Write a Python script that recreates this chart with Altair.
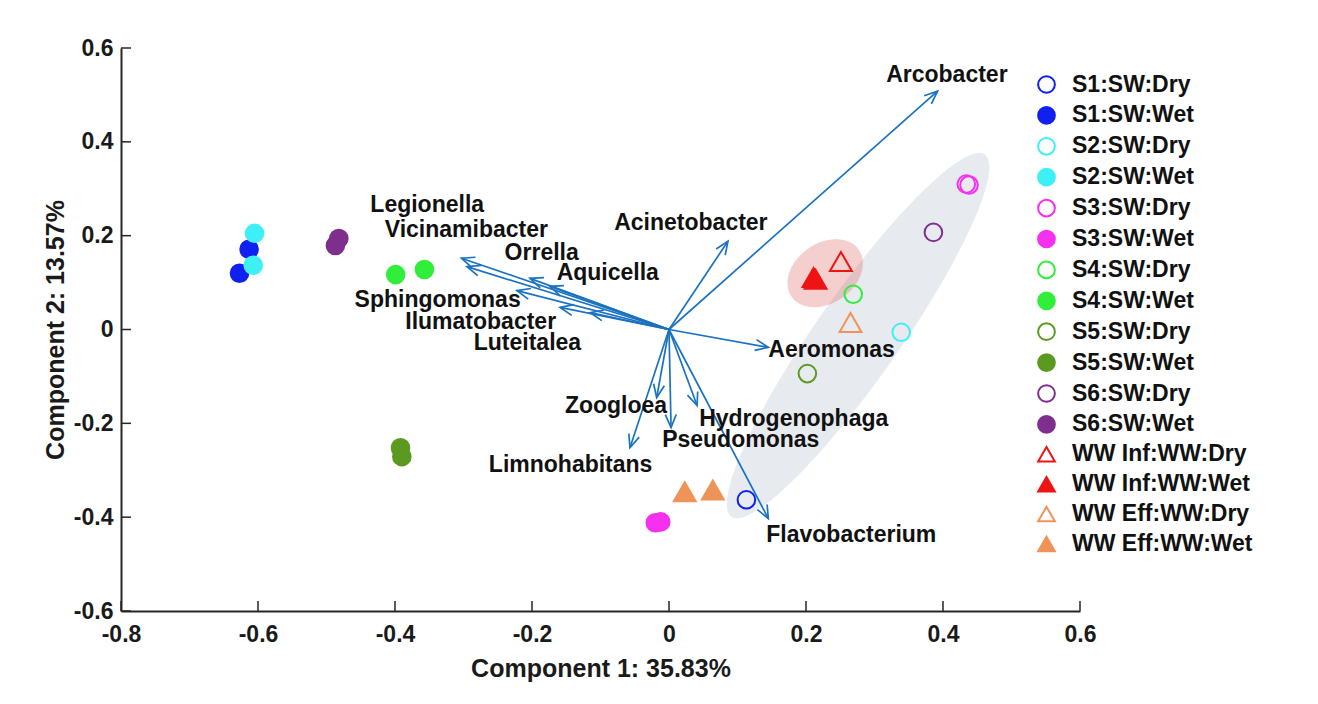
import altair as alt
import pandas as pd
import numpy as np

# ---------------- data ----------------
groups = ["S1:SW:Dry", "S1:SW:Wet", "S2:SW:Dry", "S2:SW:Wet", "S3:SW:Dry", "S3:SW:Wet",
          "S4:SW:Dry", "S4:SW:Wet", "S5:SW:Dry", "S5:SW:Wet", "S6:SW:Dry", "S6:SW:Wet",
          "WW Inf:WW:Dry", "WW Inf:WW:Wet", "WW Eff:WW:Dry", "WW Eff:WW:Wet"]
group_colors = ["#1020f0", "#1020f0", "#3ef0f5", "#3ef0f5", "#f530ee", "#f530ee",
                "#30ee3a", "#30ee3a", "#5b9a20", "#5b9a20", "#7e2f8e", "#7e2f8e",
                "#ee1414", "#ee1414", "#ef9458", "#ef9458"]
group_fills = ["transparent", "#1020f0", "transparent", "#3ef0f5", "transparent", "#f530ee",
               "transparent", "#30ee3a", "transparent", "#5b9a20", "transparent", "#7e2f8e",
               "transparent", "#ee1414", "transparent", "#ef9458"]
group_shapes = ["circle"] * 12 + ["triangle-up"] * 4

sample_group = ["S1:SW:Dry", "S1:SW:Wet", "S1:SW:Wet",
                "S2:SW:Dry", "S2:SW:Wet", "S2:SW:Wet",
                "S3:SW:Dry", "S3:SW:Dry", "S3:SW:Wet", "S3:SW:Wet",
                "S4:SW:Dry", "S4:SW:Wet", "S4:SW:Wet",
                "S5:SW:Dry", "S5:SW:Wet", "S5:SW:Wet",
                "S6:SW:Dry", "S6:SW:Wet", "S6:SW:Wet",
                "WW Inf:WW:Dry", "WW Inf:WW:Wet", "WW Inf:WW:Wet",
                "WW Eff:WW:Dry", "WW Eff:WW:Wet", "WW Eff:WW:Wet"]
sample_x = [0.113, -0.627, -0.613,
            0.339, -0.605, -0.607,
            0.434, 0.438, -0.020, -0.012,
            0.269, -0.399, -0.357,
            0.202, -0.392, -0.390,
            0.386, -0.482, -0.487,
            0.251, 0.211, 0.214,
            0.265, 0.023, 0.064]
sample_y = [-0.363, 0.120, 0.171,
            -0.006, 0.205, 0.137,
            0.310, 0.308, -0.412, -0.410,
            0.075, 0.117, 0.128,
            -0.094, -0.252, -0.271,
            0.207, 0.194, 0.179,
            0.145, 0.111, 0.107,
            0.015, -0.346, -0.342]

var_names = ["Arcobacter", "Acinetobacter", "Legionella", "Vicinamibacter", "Orrella",
             "Aquicella", "Sphingomonas", "Ilumatobacter", "Luteitalea", "Aeromonas",
             "Zoogloea", "Hydrogenophaga", "Pseudomonas", "Limnohabitans", "Flavobacterium"]
var_x = [0.392, 0.086, -0.303, -0.295, -0.203, -0.174, -0.222, -0.159, -0.115, 0.145,
         -0.018, 0.041, 0.003, -0.057, 0.145]
var_y = [0.508, 0.188, 0.152, 0.134, 0.109, 0.092, 0.083, 0.047, 0.036, -0.038,
         -0.145, -0.162, -0.209, -0.252, -0.403]
label_x = [0.317, -0.080, -0.436, -0.415, -0.240, -0.164, -0.459, -0.385, -0.285, 0.145,
           -0.152, 0.044, -0.010, -0.263, 0.142]
label_y = [0.542, 0.228, 0.265, 0.213, 0.162, 0.120, 0.062, 0.015, -0.028, -0.043,
           -0.164, -0.190, -0.235, -0.288, -0.438]

x_ticks = [-0.8, -0.6, -0.4, -0.2, 0, 0.2, 0.4, 0.6]
y_ticks = [-0.6, -0.4, -0.2, 0, 0.2, 0.4, 0.6]

ellipse_cx = [0.276, 0.228]
ellipse_cy = [-0.013, 0.120]

# ---------------- layout / style ----------------
W, H = 959, 563
XD, YD = [-0.8, 0.6], [-0.6, 0.6]
FONT = "Liberation Sans"
AX = "#262626"
ARROW = "#1a72c0"


def ellipse_path(ratio, n=90):
    t = np.linspace(0, 2 * np.pi, n, endpoint=False)
    pts = [f"{np.cos(a):.4f} {ratio * np.sin(a):.4f}" for a in t]
    return "M " + " L ".join(pts) + " Z"


xs = alt.Scale(domain=XD, nice=False, zero=False)
ys = alt.Scale(domain=YD, nice=False, zero=False)
x_axis = alt.Axis(values=x_ticks, ticks=False, grid=False, domainColor=AX, domainWidth=2,
                  labelFont=FONT, labelFontSize=23, labelFontWeight="bold", labelColor="#1a1a1a",
                  labelPadding=12, labelFlush=False, labelOverlap=False, labelBound=False,
                  labelExpr="'' + datum.value",
                  title="Component 1: 35.83%", titleFont=FONT, titleFontSize=25,
                  titleFontWeight="bold", titleColor="#1a1a1a", titleX=W / 2, titleY=57,
                  titleBaseline="middle", titleAlign="center")
y_axis = alt.Axis(values=y_ticks, ticks=False, grid=False, domainColor=AX, domainWidth=2,
                  labelFont=FONT, labelFontSize=23, labelFontWeight="bold", labelColor="#1a1a1a",
                  labelPadding=8, labelFlush=False, labelOverlap=False, labelBound=False,
                  labelExpr="'' + datum.value",
                  title="Component 2: 13.57%", titleFont=FONT, titleFontSize=25,
                  titleFontWeight="bold", titleColor="#1a1a1a", titleX=-66, titleY=H / 2,
                  titleBaseline="middle", titleAlign="center")

samples = pd.DataFrame({"group": sample_group, "x": sample_x, "y": sample_y})
arrows = pd.DataFrame({"name": var_names, "vx": var_x, "vy": var_y,
                       "lx": label_x, "ly": label_y})
arrows["x0"] = 0.0
arrows["y0"] = 0.0
px_per_x = W / (XD[1] - XD[0])
px_per_y = H / (YD[1] - YD[0])
arrows["ang"] = np.degrees(np.arctan2(-arrows["vy"] * px_per_y, arrows["vx"] * px_per_x)) % 360

ell = pd.DataFrame({"cx": ellipse_cx, "cy": ellipse_cy})

gray_ell = alt.Chart(ell.iloc[[0]]).mark_point(
    shape=ellipse_path(0.19), filled=True, color="#c9d0db", opacity=0.45,
    size=442 ** 2, angle=305, strokeWidth=0
).encode(x=alt.X("cx:Q", scale=xs, axis=x_axis), y=alt.Y("cy:Q", scale=ys, axis=y_axis))

red_ell = alt.Chart(ell.iloc[[1]]).mark_point(
    shape=ellipse_path(0.73), filled=True, color="#dc5f5a", opacity=0.3,
    size=82 ** 2, angle=325, strokeWidth=0
).encode(x=alt.X("cx:Q", scale=xs, axis=x_axis), y=alt.Y("cy:Q", scale=ys, axis=y_axis))

xtick_layer = alt.Chart(pd.DataFrame({"t": x_ticks})).mark_rule(color=AX, strokeWidth=1.5).encode(
    x=alt.X("t:Q", scale=xs, axis=x_axis), y=alt.value(H), y2=alt.value(H - 10))
ytick_layer = alt.Chart(pd.DataFrame({"t": y_ticks})).mark_rule(color=AX, strokeWidth=1.5).encode(
    y=alt.Y("t:Q", scale=ys, axis=y_axis), x=alt.value(0), x2=alt.value(10))

arrow_lines = alt.Chart(arrows).mark_rule(color=ARROW, strokeWidth=1.7).encode(
    x=alt.X("x0:Q", scale=xs, axis=x_axis), y=alt.Y("y0:Q", scale=ys, axis=y_axis),
    x2="vx:Q", y2="vy:Q")

arrow_heads = alt.Chart(arrows).mark_point(
    shape="M -1 -0.42 L 0 0 L -1 0.42", filled=False, color=ARROW, strokeWidth=1.7,
    size=26 ** 2, opacity=1
).encode(x=alt.X("vx:Q", scale=xs, axis=x_axis), y=alt.Y("vy:Q", scale=ys, axis=y_axis),
         angle=alt.Angle("ang:Q", scale=None))

arrow_labels = alt.Chart(arrows).mark_text(
    align="left", baseline="middle", font=FONT, fontSize=23, fontWeight="bold", color="#111111"
).encode(x=alt.X("lx:Q", scale=xs, axis=x_axis), y=alt.Y("ly:Q", scale=ys, axis=y_axis),
         text="name:N")

leg = alt.Legend(title=None)
enc = dict(
    x=alt.X("x:Q", scale=xs, axis=x_axis),
    y=alt.Y("y:Q", scale=ys, axis=y_axis),
    shape=alt.Shape("group:N", scale=alt.Scale(domain=groups, range=group_shapes), legend=leg),
    stroke=alt.Stroke("group:N", scale=alt.Scale(domain=groups, range=group_colors), legend=leg),
    fill=alt.Fill("group:N", scale=alt.Scale(domain=groups, range=group_fills), legend=leg),
)
circles = alt.Chart(samples).transform_filter(
    "indexof(datum.group, 'WW') < 0"
).mark_point(filled=True, strokeWidth=2, opacity=1, size=310).encode(**enc)
triangles = alt.Chart(samples).transform_filter(
    "indexof(datum.group, 'WW') >= 0"
).mark_point(filled=True, strokeWidth=2, opacity=1, size=480).encode(**enc)

chart = alt.layer(gray_ell, red_ell, arrow_lines, arrow_heads, arrow_labels,
                  xtick_layer, ytick_layer, circles, triangles).properties(
    width=W, height=H,
    autosize=alt.AutoSizeParams(type="none"),
    padding={"left": 113, "top": 40, "right": 220, "bottom": 85},
).configure_view(stroke=None).configure_legend(
    orient="none", legendX=914, legendY=25,
    labelFont=FONT, labelFontSize=23, labelFontWeight="bold", labelColor="#111111",
    symbolSize=280, symbolStrokeWidth=2, labelOffset=14, rowPadding=5.9,
    padding=0, labelLimit=400
)

chart.save("out.html", embed_options={"renderer": "svg", "actions": False})
